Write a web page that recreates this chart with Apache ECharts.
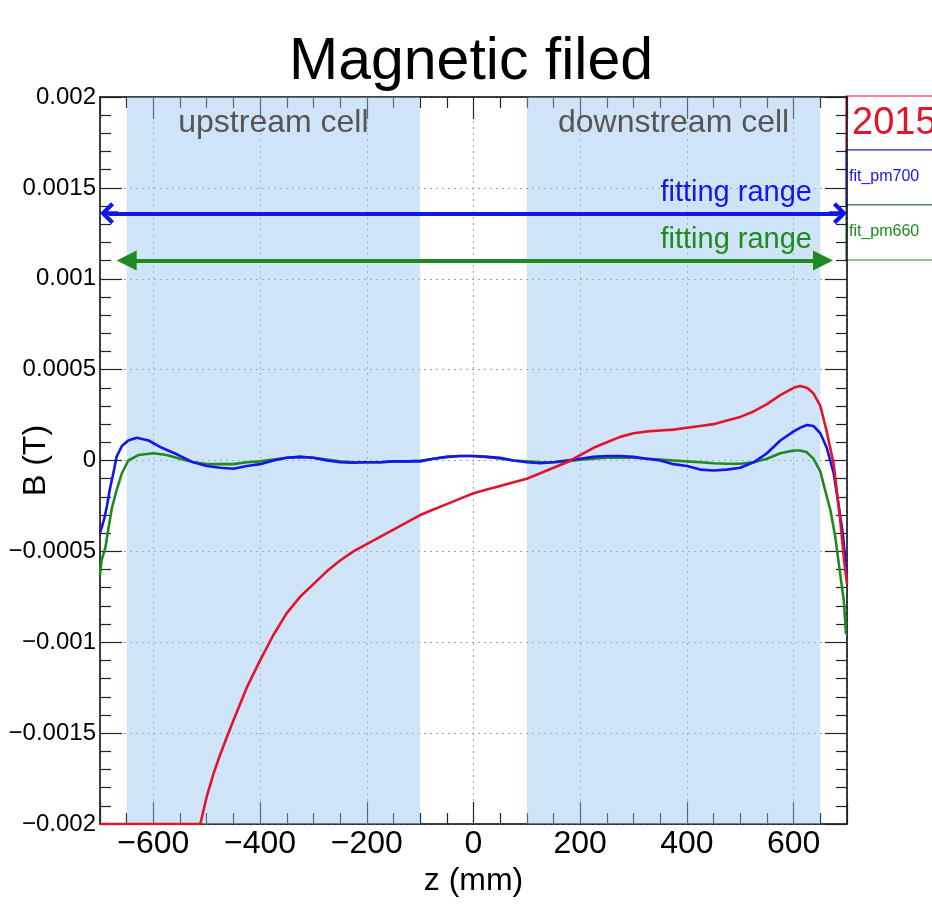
<!DOCTYPE html>
<html>
<head>
<meta charset="utf-8">
<script src="https://cdn.jsdelivr.net/npm/echarts@6/dist/echarts.min.js"></script>
<style>
  html, body { margin: 0; padding: 0; background: #fff; }
  #chart { width: 932px; height: 910px; }
</style>
</head>
<body>
<div id="chart"></div>
<script>
// z (mm) positions and B (T) values, one pair of arrays per histogram
var zRed = [-700, -525, -512, -500, -487, -475, -462, -450,
  -425, -400, -375, -350, -325, -300, -275, -250, -225, -200, -175, -150, -125, -100, -75, -50, -25,
  0, 25, 50, 75, 100, 125, 150, 175, 200, 225, 250, 275, 300, 325, 350, 375, 400, 425, 450, 475, 500, 525, 550, 575, 600,
  612, 625, 637, 650, 662, 675, 687, 695, 700];
var bRed = [-0.002, -0.002, -0.002, -0.00185, -0.00172, -0.00162, -0.00152, -0.00143,
  -0.00125, -0.00110, -0.00096, -0.00084, -0.00075, -0.00068, -0.00061, -0.00055, -0.00050, -0.00046, -0.00042, -0.00038, -0.00034, -0.00030, -0.00027, -0.00024, -0.00021,
  -0.00018, -0.00016, -0.00014, -0.00012, -0.00010, -0.00007, -0.00004, -0.00001, 0.00003, 0.00007, 0.00010, 0.00013, 0.00015, 0.00016, 0.000165, 0.00017, 0.00018, 0.00019, 0.00020, 0.00022, 0.00024, 0.00027, 0.00031, 0.00036, 0.00040,
  0.00041, 0.00040, 0.00037, 0.00030, 0.00016, -0.00002, -0.00032, -0.00056, -0.00068];

var zBlue = [-700, -697, -692, -687, -681, -675, -669, -659, -647, -631, -609, -584, -553,
  -525, -500, -475, -450, -425, -400, -375, -350, -325, -300, -275, -250, -225, -200, -175, -150, -125, -100, -75, -50, -25,
  0, 25, 50, 75, 100, 125, 150, 175, 200, 225, 250, 275, 300, 325, 350, 375, 400, 425, 450, 475, 500, 525, 550, 575, 600,
  612, 625, 637, 650, 662, 675, 684, 692, 697, 700];
var bBlue = [-0.00040, -0.00040, -0.00032, -0.00025, -0.00015, -0.00007, 0.00002, 0.00008, 0.00011, 0.000125, 0.00011, 0.00007, 0.00003,
  -0.00001, -0.00003, -0.00004, -0.000045, -0.00003, -0.00002, 0, 0.000015, 0.00002, 0.000015, 0, -0.00001, -0.000012, -0.00001, -0.00001, -0.000005, -0.000005, -0.000005, 0.00001, 0.00002, 0.000025,
  0.000025, 0.00002, 0.000015, 0, -0.00001, -0.000015, -0.00001, 0, 0.00001, 0.00002, 0.000025, 0.000025, 0.00002, 0.00001, 0, -0.00002, -0.00003, -0.00005, -0.000055, -0.00005, -0.00004, -0.00001, 0.00004, 0.00011, 0.00016,
  0.00018, 0.000195, 0.00019, 0.00015, 0.00007, -0.00007, -0.00024, -0.00040, -0.00055, -0.00062];

var zGreen = [-700, -697, -690, -684, -678, -669, -659, -647, -628,
  -600, -575, -550, -525, -500, -475, -450, -425, -400, -375, -350, -325, -300, -275, -250, -225, -200, -175, -150, -125, -100, -75, -50, -25,
  0, 25, 50, 75, 100, 125, 150, 175, 200, 225, 250, 275, 300, 325, 350, 375, 400, 425, 450, 475, 500, 525, 550, 575, 600,
  612, 625, 637, 650, 656, 669, 678, 687, 694, 698, 700];
var bGreen = [-0.00063, -0.00055, -0.00048, -0.00037, -0.000265, -0.000165, -0.00007, 0, 0.00003,
  0.00004, 0.00003, 0.00001, -0.00001, -0.00002, -0.00002, -0.00002, -0.00001, -0.000005, 0.000005, 0.000015, 0.00002, 0.000015, 0.000005, -0.000005, -0.00001, -0.00001, -0.00001, -0.000005, -0.000005, 0, 0.00001, 0.00002, 0.000025,
  0.000025, 0.00002, 0.00001, 0, -0.000005, -0.00001, -0.00001, -0.000005, 0.000005, 0.00001, 0.000015, 0.000015, 0.000015, 0.00001, 0.000005, 0, -0.000005, -0.00001, -0.000015, -0.000018, -0.000018, -0.00001, 0.00001, 0.00004, 0.000055,
  0.000055, 0.000045, 0.00001, -0.00006, -0.00013, -0.000275, -0.00042, -0.00062, -0.00077, -0.00095, -0.00095];

// shaded cells [from, to] in mm
var cellNames = ['upstream cell', 'downstream cell'];
var cellRanges = [[-650, -100], [100, 650]];
// fitting-range arrows: [zStart, zEnd, B] (line ends at arrow-head centres)
var fitBlue = [-683, 683, 0.00136];
var fitGreen = [-650, 655, 0.0011];

var seriesNames = ['2015', 'fit_pm700', 'fit_pm660'];
var colors = ['#e3142a', '#1414ee', '#1f8a1f'];

function pairs(xs, ys) {
  var out = [];
  for (var i = 0; i < xs.length; i++) out.push([xs[i], ys[i]]);
  return out;
}
function minus(v) { return String(v).replace('-', '\u2212'); }

var FONT = 'Liberation Sans';
var tickStyle = { color: '#222', width: 1.2 };

function xAxisCfg(pos) {
  return {
    type: 'value', position: pos, min: -700, max: 700, splitNumber: 7,
    axisLine: { show: true, onZero: false, lineStyle: { color: '#000', width: 1.5 } },
    axisTick: { show: true, inside: true, length: 22, lineStyle: tickStyle },
    minorTick: { show: true, splitNumber: 4, length: 11, lineStyle: tickStyle },
    axisLabel: pos === 'bottom' ? {
      show: true, margin: 4, fontSize: 32, color: '#000', fontFamily: FONT,
      showMinLabel: false, showMaxLabel: false, formatter: minus
    } : { show: false },
    splitLine: { show: pos === 'bottom', lineStyle: { type: [2, 4], color: '#9aa3ad', width: 1 } },
    name: pos === 'bottom' ? 'z (mm)' : '',
    nameLocation: 'middle', nameGap: 41, nameMoveOverlap: false,
    nameTextStyle: { fontSize: 32, color: '#000', fontFamily: FONT }
  };
}
function yAxisCfg(pos) {
  return {
    type: 'value', position: pos, min: -0.002, max: 0.002, splitNumber: 8,
    axisLine: { show: true, onZero: false, lineStyle: { color: '#000', width: 1.5 } },
    axisTick: { show: true, inside: true, length: 22, lineStyle: tickStyle },
    minorTick: { show: true, splitNumber: 5, length: 11, lineStyle: tickStyle },
    axisLabel: pos === 'left' ? {
      show: true, margin: 4, fontSize: 24, color: '#000', fontFamily: FONT, formatter: minus
    } : { show: false },
    splitLine: { show: pos === 'left', lineStyle: { type: [2, 4], color: '#9aa3ad', width: 1 } },
    name: pos === 'left' ? 'B (T)' : '',
    nameLocation: 'middle', nameGap: 48, nameMoveOverlap: false,
    nameTextStyle: { fontSize: 32, color: '#000', fontFamily: FONT }
  };
}

function arrowLine(fit, color, symbol, size, labelDist) {
  return {
    silent: true, animation: false,
    symbol: [symbol, symbol], symbolSize: size,
    lineStyle: { color: color, width: 4, type: 'solid' },
    label: {
      show: true, position: 'insideEndTop', formatter: 'fitting range',
      color: color, fontSize: 29, fontFamily: FONT, distance: labelDist
    },
    data: [[{ coord: [fit[0], fit[2]] }, { coord: [fit[1], fit[2]] }]]
  };
}

// open arrow head with a short shaft stub so the line reaches the tip
var chevron = 'path://M0,11 L11,0 L22,11 L19,14 L13,8 L13,18 L9,18 L9,8 L3,14 Z';

var chart = echarts.init(document.getElementById('chart'));
var option = {
  backgroundColor: '#fff',
  animation: false,
  title: {
    text: 'Magnetic filed', left: 289, top: 33, padding: 0,
    textStyle: { fontSize: 59, fontWeight: 'normal', color: '#000', fontFamily: FONT }
  },
  grid: { left: 100, top: 97, right: 85, bottom: 86, containLabel: false, outerBoundsMode: 'none' },
  xAxis: [xAxisCfg('bottom'), xAxisCfg('top')],
  yAxis: [yAxisCfg('left'), yAxisCfg('right')],
  series: [
    {
      name: seriesNames[0], type: 'line', data: pairs(zRed, bRed),
      showSymbol: false, smooth: false,
      lineStyle: { color: colors[0], width: 2.6, join: 'round' }, itemStyle: { color: colors[0] },
      z: 4,
      markArea: {
        silent: true,
        itemStyle: { color: 'rgba(150,196,240,0.45)' },
        label: { show: true, position: 'insideTop', distance: 10, color: '#555', fontSize: 32, fontFamily: FONT },
        data: cellRanges.map(function (r, i) {
          return [{ name: cellNames[i], xAxis: r[0] }, { xAxis: r[1] }];
        })
      }
    },
    {
      name: seriesNames[1], type: 'line', data: pairs(zBlue, bBlue),
      showSymbol: false, smooth: false,
      lineStyle: { color: colors[1], width: 2.6, join: 'round' }, itemStyle: { color: colors[1] },
      z: 3,
      markLine: arrowLine(fitBlue, colors[1], chevron, [22, 18], [26, 6])
    },
    {
      name: seriesNames[2], type: 'line', data: pairs(zGreen, bGreen),
      showSymbol: false, smooth: false,
      lineStyle: { color: colors[2], width: 2.6, join: 'round' }, itemStyle: { color: colors[2] },
      z: 2,
      markLine: arrowLine(fitGreen, colors[2], 'triangle', [20, 20], [11, 6])
    }
  ],
  // ROOT-style legend boxes at the right edge
  graphic: [
    { type: 'rect', shape: { x: 846, y: 96, width: 120, height: 54 }, style: { fill: '#fff', stroke: colors[0], lineWidth: 1.2 } },
    { type: 'rect', shape: { x: 846, y: 150, width: 120, height: 55 }, style: { fill: '#fff', stroke: colors[1], lineWidth: 1.2 } },
    { type: 'rect', shape: { x: 846, y: 205, width: 120, height: 55 }, style: { fill: '#fff', stroke: colors[2], lineWidth: 1.2 } },
    { type: 'text', style: { x: 852, y: 124, text: seriesNames[0], fill: colors[0], font: '38px ' + FONT, verticalAlign: 'middle' } },
    { type: 'text', style: { x: 849, y: 177, text: seriesNames[1], fill: colors[1], font: '16px ' + FONT, verticalAlign: 'middle' } },
    { type: 'text', style: { x: 849, y: 232, text: seriesNames[2], fill: colors[2], font: '16px ' + FONT, verticalAlign: 'middle' } }
  ]
};
chart.setOption(option);
</script>
</body>
</html>
